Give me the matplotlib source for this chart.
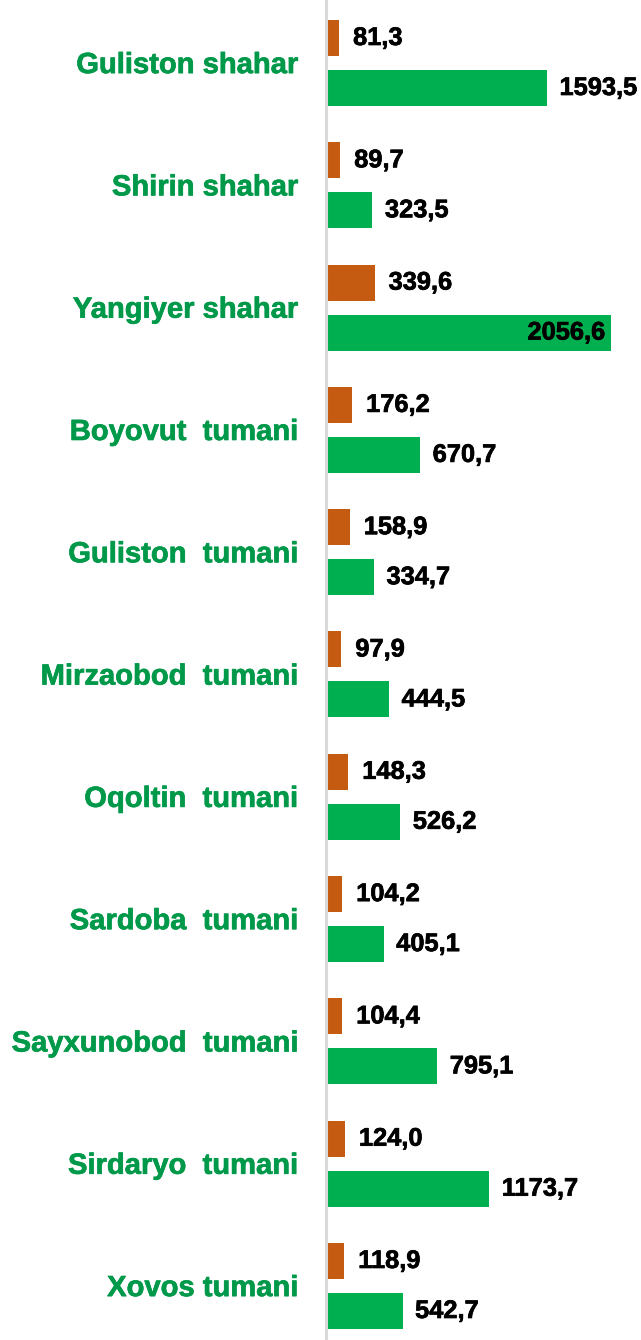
import matplotlib
matplotlib.use("Agg")
import matplotlib.pyplot as plt
import matplotlib.patheffects as pe
from matplotlib.lines import Line2D
import numpy as np

categories = [
    "Guliston shahar",
    "Shirin shahar",
    "Yangiyer shahar",
    "Boyovut  tumani",
    "Guliston  tumani",
    "Mirzaobod  tumani",
    "Oqoltin  tumani",
    "Sardoba  tumani",
    "Sayxunobod  tumani",
    "Sirdaryo  tumani",
    "Xovos tumani",
]
series_orange = [81.3, 89.7, 339.6, 176.2, 158.9, 97.9, 148.3, 104.2, 104.4, 124.0, 118.9]
series_green = [1593.5, 323.5, 2056.6, 670.7, 334.7, 444.5, 526.2, 405.1, 795.1, 1173.7, 542.7]

ORANGE = "#C55A11"
GREEN = "#00B050"
LABEL_GREEN = "#00994A"
FONT = "Liberation Sans"

W, H = 641, 1340
DPI = 100
fig = plt.figure(figsize=(W / DPI, H / DPI), dpi=DPI)

left_px = 328
ax = fig.add_axes([left_px / W, 0, (W - left_px) / W, 1])

step = 122.3          # pixels per category group
first_center = 63.0   # pixel y of first group centre
offset = 25.0 / step
bar_h = 36.0 / step

y = np.arange(len(categories))
ax.barh(y - offset, series_orange, height=bar_h, color=ORANGE, edgecolor="none")
ax.barh(y + offset, series_green, height=bar_h, color=GREEN, edgecolor="none")

px_per_unit = 219.0 / 1593.5
ax.set_xlim(0, (W - left_px) / px_per_unit)
ax.set_ylim((H - first_center) / step, -first_center / step)
ax.axis("off")

max_green = max(series_green)


def fmt(v):
    return f"{v:.1f}".replace(".", ",")


def heavy(color):
    return [pe.withStroke(linewidth=0.5, foreground=color)]


value_kw = dict(textcoords="offset points", va="center", fontsize=18.3,
                fontweight="bold", family=FONT, color="black",
                path_effects=heavy("black"))

for i in range(len(categories)):
    ax.annotate(fmt(series_orange[i]), (series_orange[i], y[i] - offset),
                xytext=(10, 0), ha="left", **value_kw)
    g = series_green[i]
    if g == max_green:
        ax.annotate(fmt(g), (g, y[i] + offset), xytext=(-4, 0),
                    ha="right", **value_kw)
    else:
        ax.annotate(fmt(g), (g, y[i] + offset), xytext=(9, 0),
                    ha="left", **value_kw)
    ax.annotate(categories[i], (0, y[i]),
                xytext=(-21.5, -1.5), textcoords="offset points",
                ha="right", va="center", fontsize=21, fontweight="bold",
                family=FONT, color=LABEL_GREEN, annotation_clip=False,
                path_effects=heavy(LABEL_GREEN))

# vertical category axis line
fig.add_artist(Line2D([325.5 / W, 325.5 / W], [0, 1], color="#D9D9D9",
                      linewidth=2.2, transform=fig.transFigure))

fig.savefig("out.png", dpi=DPI)
